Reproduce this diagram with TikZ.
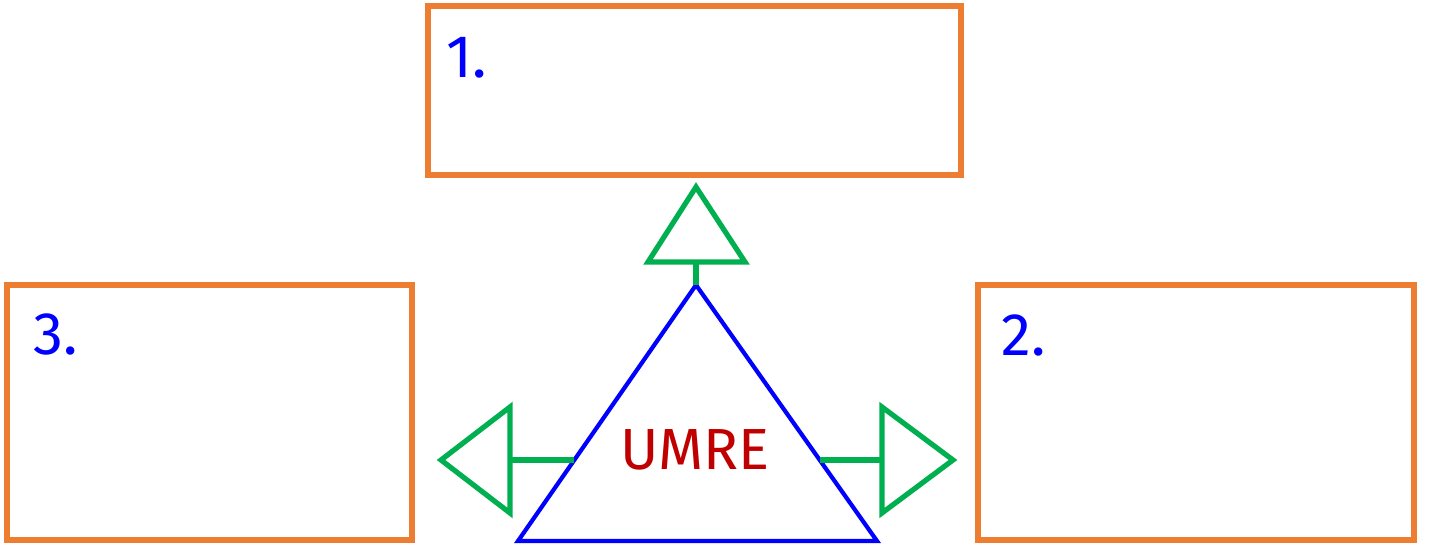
\documentclass[tikz,border=0pt]{standalone}
\usepackage{fontspec}
\setmainfont{Fira Sans}
\definecolor{boxorange}{HTML}{ED7D31}
\definecolor{tblue}{HTML}{0000FF}
\definecolor{tgreen}{HTML}{00B050}
\definecolor{tred}{HTML}{C00000}
\begin{document}
\begin{tikzpicture}[x=0.5pt,y=-0.5pt,
  numbox/.style={draw=boxorange,line width=2.6pt,rectangle,inner sep=0pt},
  numlabel/.style={text=tblue,font=\fontsize{30}{36}\selectfont,anchor=base west,inner sep=0pt},
  greentri/.style={draw=tgreen,line width=2.6pt,line join=miter},
  greenstem/.style={draw=tgreen,line width=2.6pt},
  bluetri/.style={draw=tblue,line width=2.1pt,line join=miter}]
\useasboundingbox (0,0) rectangle (1430,545);
% boxes
\node[numbox,minimum width=266.5pt,minimum height=84.5pt] (box1) at (694.5,90.5) {};
\node[numbox,minimum width=202.5pt,minimum height=127.5pt] (box3) at (209.5,412.5) {};
\node[numbox,minimum width=218pt,minimum height=127.5pt] (box2) at (1196,412.5) {};
\node[numlabel] (l1) at (446,78) {1.};
\node[numlabel] (l3) at (33,355) {3.};
\node[numlabel] (l2) at (1001,356) {2.};
% blue triangle
\coordinate (apex) at (696,285);
\coordinate (bl) at (518,541);
\coordinate (br) at (877,541);
\draw[bluetri] (apex) -- (bl) -- (br) -- cycle;
\node[text=tred,font=\fontsize{29}{34}\selectfont,inner sep=0pt] (umre) at (695,450) {UMRE};
% top green arrow
\coordinate (ttip) at (696,187);
\coordinate (tbl) at (648,262);
\coordinate (tbr) at (745,262);
\coordinate (tbase) at (696,262);
\draw[greentri] (ttip) -- (tbl) -- (tbr) -- cycle;
\draw[greenstem] (tbase) -- (apex);
% left green arrow
\coordinate (ltip) at (441,460);
\coordinate (lt) at (510,407);
\coordinate (lb) at (510,513);
\coordinate (lbase) at (510,460);
\coordinate (lstart) at (574,460);
\draw[greentri] (ltip) -- (lt) -- (lb) -- cycle;
\draw[greenstem] (lstart) -- (lbase);
% right green arrow
\coordinate (rtip) at (953,460);
\coordinate (rt) at (882,407);
\coordinate (rb) at (882,513);
\coordinate (rbase) at (882,460);
\coordinate (rstart) at (820,460);
\draw[greentri] (rtip) -- (rt) -- (rb) -- cycle;
\draw[greenstem] (rstart) -- (rbase);
\end{tikzpicture}
\end{document}
